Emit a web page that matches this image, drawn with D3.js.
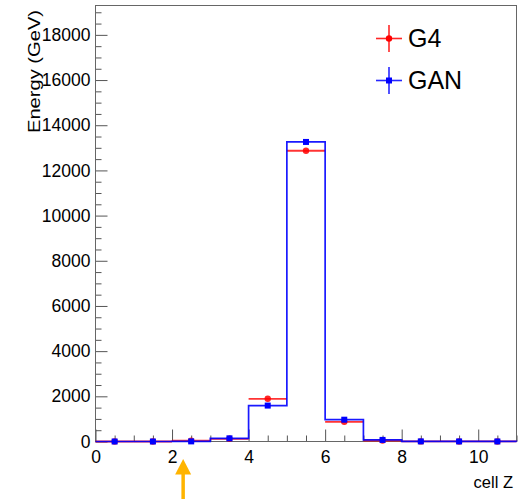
<!DOCTYPE html>
<html>
<head>
<meta charset="utf-8">
<script src="https://cdn.jsdelivr.net/npm/d3@7"></script>
<style>
  body { margin: 0; background: #fff; }
  svg { display: block; font-family: "Liberation Sans", Arial, Helvetica, sans-serif; }
</style>
</head>
<body>
<div id="chart"></div>
<script>
// bins of cell Z (lower edges), width 1
const cellZ = [0, 1, 2, 3, 4, 5, 6, 7, 8, 9, 10];
const g4Energy = [0, 0, 35, 120, 1890, 12870, 870, 45, 5, 3, 2];
const ganEnergy = [0, 0, 5, 140, 1590, 13260, 965, 70, 5, 3, 2];
const xMajorTicks = [0, 2, 4, 6, 8, 10];
const yMajorTicks = [0, 2000, 4000, 6000, 8000, 10000, 12000, 14000, 16000, 18000];
const seriesNames = ["G4", "GAN"];

const W = 518, H = 499;
const pad = { left: 95.5, right: 516.5, top: 5.5, bottom: 441.5 };

const svg = d3.select("#chart").append("svg")
    .attr("width", W)
    .attr("height", H);

const x = d3.scaleLinear().domain([0, 11]).range([pad.left, pad.right]);
const y = d3.scaleLinear().domain([0, 19300]).range([pad.bottom, pad.top]);

const g4 = cellZ.map((z, i) => ({ lo: z, hi: z + 1, v: g4Energy[i] }));
const gan = cellZ.map((z, i) => ({ lo: z, hi: z + 1, v: ganEnergy[i] }));

// axes: ticks pointing inside the frame, like ROOT
const xMinor = d3.range(0, 11.01, 0.5).filter(t => t % 2 !== 0);
svg.append("g")
    .attr("transform", `translate(0,${pad.bottom})`)
    .call(d3.axisBottom(x).tickValues(xMinor).tickSize(-6).tickFormat(""))
    .call(g => g.select(".domain").remove());
svg.append("g")
    .attr("class", "xaxis")
    .attr("transform", `translate(0,${pad.bottom})`)
    .call(d3.axisBottom(x).tickValues(xMajorTicks).tickSize(-12).tickPadding(9).tickFormat(d3.format("d")))
    .call(g => g.select(".domain").remove());

const yMinor = d3.range(0, 19300, 500).filter(t => t % 2000 !== 0);
svg.append("g")
    .attr("transform", `translate(${pad.left},0)`)
    .call(d3.axisLeft(y).tickValues(yMinor).tickSize(-6).tickFormat(""))
    .call(g => g.select(".domain").remove());
svg.append("g")
    .attr("class", "yaxis")
    .attr("transform", `translate(${pad.left},0)`)
    .call(d3.axisLeft(y).tickValues(yMajorTicks).tickSize(-12).tickPadding(5).tickFormat(d3.format("d")))
    .call(g => g.select(".domain").remove());

svg.selectAll(".tick line").attr("stroke", "#555");
svg.selectAll(".tick text")
    .attr("fill", "#000")
    .style("font-size", "17.5px");

// frame
svg.append("rect")
    .attr("x", pad.left).attr("y", pad.top)
    .attr("width", pad.right - pad.left).attr("height", pad.bottom - pad.top)
    .attr("fill", "none")
    .attr("stroke", "#666")
    .attr("stroke-width", 1);

// G4: horizontal bin bars + round markers
svg.append("g").selectAll("line")
    .data(g4)
    .join("line")
    .attr("x1", d => x(d.lo))
    .attr("x2", d => x(d.hi))
    .attr("y1", d => y(d.v))
    .attr("y2", d => y(d.v))
    .attr("stroke", "#ff0000")
    .attr("stroke-opacity", 0.8)
    .attr("stroke-width", 1.8);

svg.append("g").selectAll("circle")
    .data(g4)
    .join("circle")
    .attr("cx", d => x((d.lo + d.hi) / 2))
    .attr("cy", d => y(d.v))
    .attr("r", 3.2)
    .attr("fill", "#ff0000")
    .attr("fill-opacity", 0.85);

// GAN: step histogram + square markers
const step = [{ x: 0, v: 0 }];
gan.forEach(d => { step.push({ x: d.lo, v: d.v }); step.push({ x: d.hi, v: d.v }); });
step.push({ x: 11, v: 0 });

svg.append("path")
    .datum(step)
    .attr("fill", "none")
    .attr("stroke", "#0000ff")
    .attr("stroke-opacity", 0.9)
    .attr("stroke-width", 1.7)
    .attr("d", d3.line().x(d => x(d.x)).y(d => y(d.v)));

svg.append("g").selectAll("rect")
    .data(gan)
    .join("rect")
    .attr("x", d => x((d.lo + d.hi) / 2) - 3)
    .attr("y", d => y(d.v) - 3)
    .attr("width", 6)
    .attr("height", 6)
    .attr("fill", "#0000ff");

// axis titles
svg.append("text")
    .attr("transform", "translate(39.5,10) rotate(-90)")
    .attr("text-anchor", "end")
    .attr("textLength", 123)
    .attr("lengthAdjust", "spacingAndGlyphs")
    .style("font-size", "16px")
    .text("Energy (GeV)");

svg.append("text")
    .attr("x", 513)
    .attr("y", 488)
    .attr("text-anchor", "end")
    .style("font-size", "16.5px")
    .text("cell Z");

// legend
const legend = svg.append("g");
const colors = ["#ff0000", "#0000ff"];
seriesNames.forEach((name, i) => {
    const cy = 38.5 + i * 42;
    const gl = legend.append("g");
    gl.append("line")
        .attr("x1", 376).attr("x2", 402).attr("y1", cy).attr("y2", cy)
        .attr("stroke", colors[i]).attr("stroke-width", 1.6).attr("stroke-opacity", 0.85);
    gl.append("line")
        .attr("x1", 389).attr("x2", 389).attr("y1", cy - 13.5).attr("y2", cy + 13.5)
        .attr("stroke", colors[i]).attr("stroke-width", 1.6).attr("stroke-opacity", 0.85);
    if (i === 0) {
        gl.append("circle").attr("cx", 389).attr("cy", cy).attr("r", 3.2).attr("fill", colors[i]);
    } else {
        gl.append("rect").attr("x", 386).attr("y", cy - 3).attr("width", 6).attr("height", 6).attr("fill", colors[i]);
    }
    gl.append("text")
        .attr("x", 408)
        .attr("y", cy + 8.5)
        .style("font-size", "25px")
        .text(name);
});

// orange arrow under cell Z ~ 2.3
const ax = x(2.29);
svg.append("line")
    .attr("x1", ax).attr("x2", ax)
    .attr("y1", 472).attr("y2", 499)
    .attr("stroke", "#ffb400")
    .attr("stroke-width", 3.5);
svg.append("path")
    .attr("d", `M${ax},459 L${ax - 8},474.5 L${ax + 8},474.5 Z`)
    .attr("fill", "#ffb400");
</script>
</body>
</html>
